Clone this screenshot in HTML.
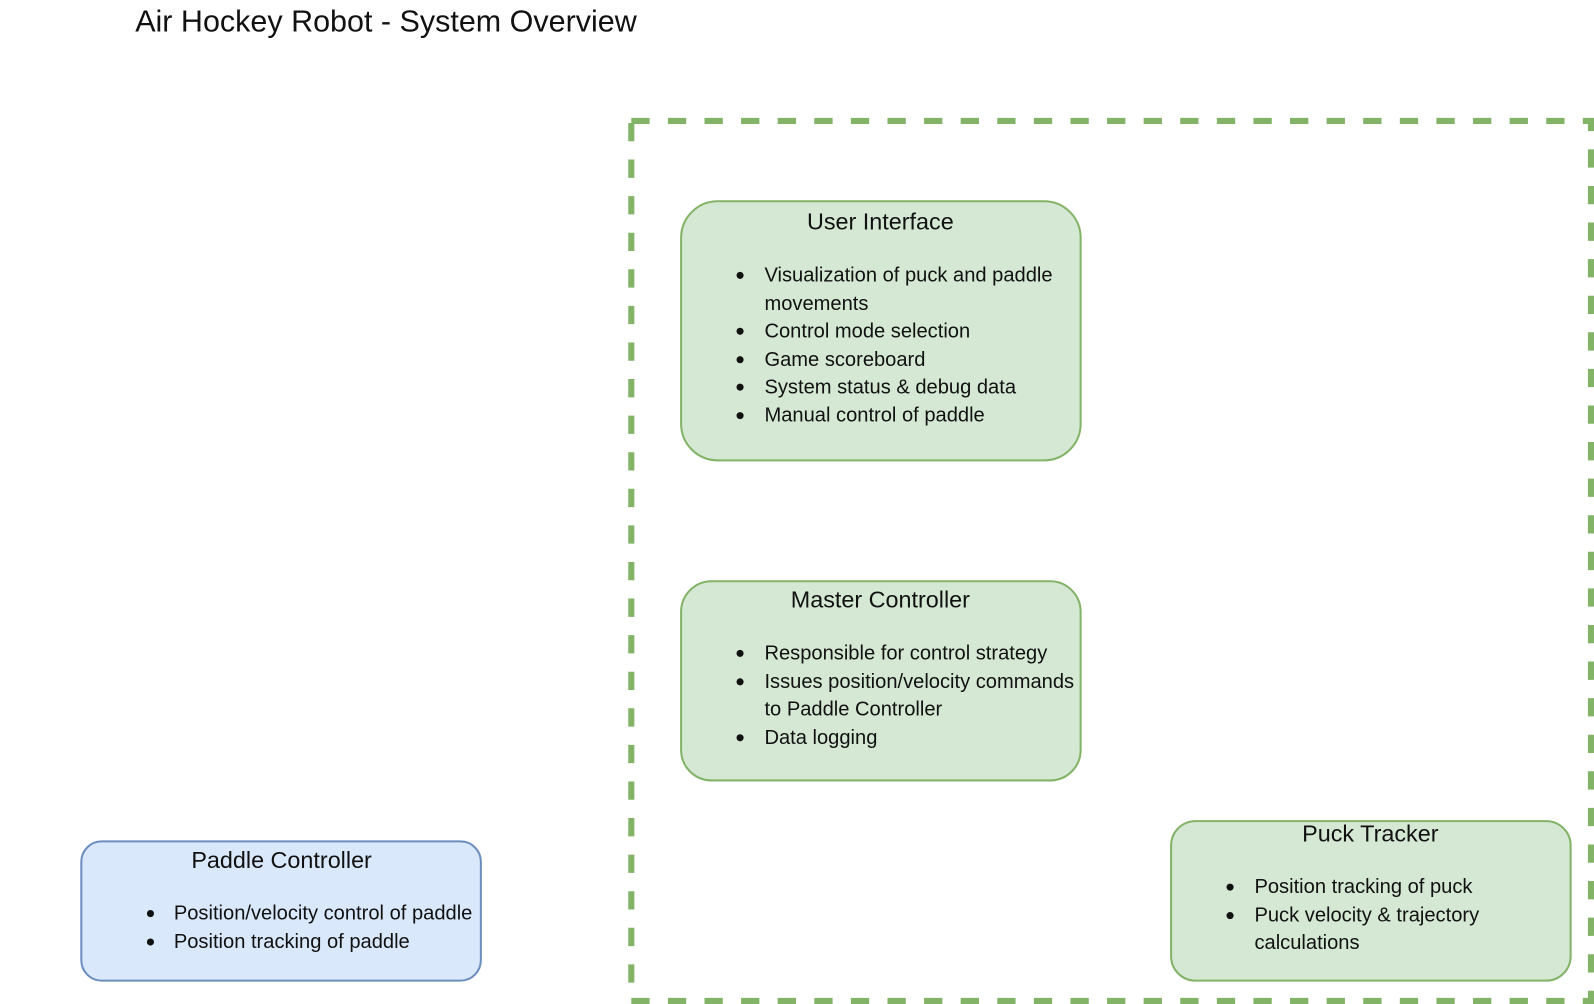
<!DOCTYPE html>
<html><head><meta charset="utf-8"><style>
html,body{margin:0;padding:0;background:#fff;}
svg{display:block;}
text{font-family:"Liberation Sans",Arial,sans-serif;fill:#111;}
.t{font-size:23px;}
.b{font-size:19.8px;}
</style></head><body>
<svg width="1594" height="1004" viewBox="0 0 1568 988" preserveAspectRatio="none" xmlns="http://www.w3.org/2000/svg">
<text x="133" y="31" style="font-size:30px">Air Hockey Robot - System Overview</text>
<rect x="621" y="119" width="944" height="866" fill="none" stroke="#82b366" stroke-width="6" stroke-dasharray="18 18"/>

<rect x="670" y="198" width="393" height="255" rx="36" fill="#d5e8d4" stroke="#82b366" stroke-width="2"/>
<text class="t" x="866" y="226" text-anchor="middle">User Interface</text>
<circle cx="728" cy="271" r="3.5" fill="#111"/><text class="b" x="752" y="277">Visualization of puck and paddle</text>
<text class="b" x="752" y="305">movements</text>
<circle cx="728" cy="326" r="3.5" fill="#111"/><text class="b" x="752" y="332">Control mode selection</text>
<circle cx="728" cy="354" r="3.5" fill="#111"/><text class="b" x="752" y="360">Game scoreboard</text>
<circle cx="728" cy="381" r="3.5" fill="#111"/><text class="b" x="752" y="387">System status &amp; debug data</text>
<circle cx="728" cy="409" r="3.5" fill="#111"/><text class="b" x="752" y="415">Manual control of paddle</text>

<rect x="670" y="572" width="393" height="196" rx="30" fill="#d5e8d4" stroke="#82b366" stroke-width="2"/>
<text class="t" x="866" y="598" text-anchor="middle">Master Controller</text>
<circle cx="728" cy="643" r="3.5" fill="#111"/><text class="b" x="752" y="649">Responsible for control strategy</text>
<circle cx="728" cy="671" r="3.5" fill="#111"/><text class="b" x="752" y="677">Issues position/velocity commands</text>
<text class="b" x="752" y="704">to Paddle Controller</text>
<circle cx="728" cy="726" r="3.5" fill="#111"/><text class="b" x="752" y="732">Data logging</text>

<rect x="1152" y="808" width="393" height="157" rx="24" fill="#d5e8d4" stroke="#82b366" stroke-width="2"/>
<text class="t" x="1348" y="828" text-anchor="middle">Puck Tracker</text>
<circle cx="1210" cy="873" r="3.5" fill="#111"/><text class="b" x="1234" y="879">Position tracking of puck</text>
<circle cx="1210" cy="901" r="3.5" fill="#111"/><text class="b" x="1234" y="907">Puck velocity &amp; trajectory</text>
<text class="b" x="1234" y="934">calculations</text>

<rect x="80" y="828" width="393" height="137" rx="20" fill="#dae8fc" stroke="#6c8ebf" stroke-width="2"/>
<text class="t" x="277" y="854" text-anchor="middle">Paddle Controller</text>
<circle cx="148" cy="899" r="3.5" fill="#111"/><text class="b" x="171" y="905">Position/velocity control of paddle</text>
<circle cx="148" cy="927" r="3.5" fill="#111"/><text class="b" x="171" y="933">Position tracking of paddle</text>
</svg>
</body></html>
